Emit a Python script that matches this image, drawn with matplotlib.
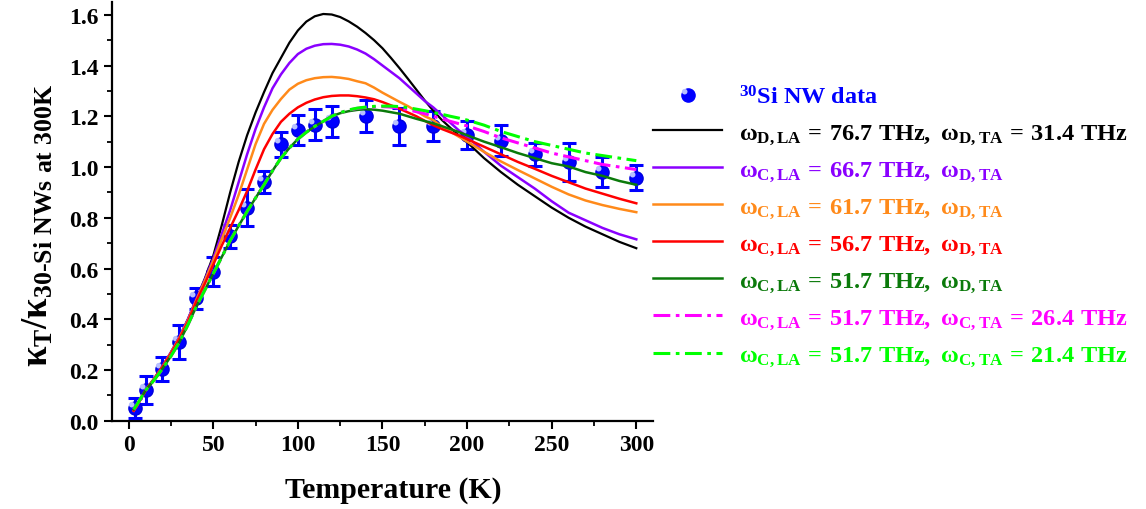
import matplotlib
matplotlib.use("Agg")
import matplotlib.pyplot as plt
from matplotlib.lines import Line2D
from matplotlib.path import Path
from matplotlib.ticker import MultipleLocator, FormatStrFormatter

# ---------------- data ----------------
T_data = [4, 10, 20, 30, 40, 50, 60, 70, 80, 90, 100, 110, 120, 140, 160, 180,
          200, 220, 240, 260, 280, 300]
k_data = [0.05, 0.122, 0.204, 0.309, 0.483, 0.588, 0.727, 0.84, 0.94, 1.09, 1.146,
          1.166, 1.18, 1.20, 1.16, 1.16, 1.127, 1.104, 1.05, 1.02, 0.98, 0.958]
k_err = [0.04, 0.054, 0.046, 0.067, 0.042, 0.058, 0.045, 0.074, 0.043, 0.049, 0.058,
         0.061, 0.062, 0.064, 0.072, 0.059, 0.056, 0.062, 0.045, 0.074, 0.06, 0.05]

T_fit = [3, 5, 10, 15, 20, 25, 30, 35, 40, 45, 50, 55, 60, 65, 70, 75, 80, 85, 90,
         95, 100, 105, 110, 115, 120, 125, 130, 135, 140, 145, 150, 155, 160, 165,
         170, 175, 180, 185, 190, 195, 200, 210, 220, 230, 240, 250, 260, 270, 280,
         290, 300]

k_black = [0.04, 0.06, 0.12, 0.165, 0.215, 0.27, 0.33, 0.40, 0.48, 0.56, 0.65, 0.77,
           0.90, 1.02, 1.125, 1.215, 1.295, 1.37, 1.43, 1.49, 1.538, 1.573, 1.594,
           1.603, 1.601, 1.591, 1.574, 1.553, 1.528, 1.50, 1.468, 1.43, 1.39, 1.348,
           1.305, 1.262, 1.222, 1.186, 1.155, 1.125, 1.098, 1.035, 0.98, 0.93, 0.885,
           0.84, 0.80, 0.765, 0.735, 0.705, 0.68]
k_purple = [0.04, 0.06, 0.12, 0.165, 0.215, 0.27, 0.33, 0.40, 0.48, 0.555, 0.64,
            0.735, 0.83, 0.94, 1.05, 1.15, 1.235, 1.31, 1.365, 1.41, 1.445, 1.466,
            1.478, 1.484, 1.485, 1.482, 1.475, 1.463, 1.447, 1.425, 1.40, 1.375, 1.35,
            1.32, 1.29, 1.26, 1.235, 1.205, 1.175, 1.145, 1.12, 1.06, 1.005, 0.96,
            0.915, 0.865, 0.82, 0.79, 0.76, 0.735, 0.715]
k_orange = [0.04, 0.06, 0.12, 0.165, 0.213, 0.268, 0.327, 0.395, 0.475, 0.55, 0.63,
            0.715, 0.80, 0.89, 0.99, 1.09, 1.17, 1.225, 1.268, 1.305, 1.328, 1.342,
            1.35, 1.354, 1.355, 1.352, 1.347, 1.338, 1.33, 1.313, 1.293, 1.275, 1.257,
            1.24, 1.22, 1.20, 1.185, 1.16, 1.14, 1.12, 1.10, 1.06, 1.022, 0.988,
            0.955, 0.922, 0.892, 0.868, 0.85, 0.835, 0.822]
k_red = [0.04, 0.06, 0.12, 0.165, 0.212, 0.265, 0.323, 0.39, 0.47, 0.54, 0.615, 0.69,
         0.76, 0.83, 0.905, 0.99, 1.07, 1.13, 1.178, 1.21, 1.235, 1.253, 1.266, 1.275,
         1.28, 1.282, 1.282, 1.279, 1.274, 1.267, 1.256, 1.243, 1.23, 1.215, 1.20,
         1.182, 1.165, 1.15, 1.137, 1.125, 1.11, 1.08, 1.05, 1.02, 0.993, 0.965, 0.94,
         0.915, 0.895, 0.875, 0.857]
k_dgreen = [0.045, 0.065, 0.12, 0.16, 0.205, 0.255, 0.31, 0.378, 0.45, 0.515, 0.58,
            0.645, 0.71, 0.768, 0.825, 0.878, 0.93, 0.985, 1.035, 1.075, 1.11, 1.137,
            1.16, 1.18, 1.20, 1.212, 1.22, 1.225, 1.228, 1.226, 1.222, 1.216, 1.21,
            1.20, 1.19, 1.181, 1.172, 1.161, 1.15, 1.138, 1.125, 1.10, 1.078, 1.055,
            1.035, 1.015, 1.002, 0.98, 0.965, 0.945, 0.93]
k_magenta = [0.045, 0.065, 0.12, 0.16, 0.205, 0.255, 0.31, 0.378, 0.45, 0.515, 0.58,
             0.645, 0.71, 0.768, 0.825, 0.878, 0.93, 0.985, 1.035, 1.075, 1.11, 1.137,
             1.16, 1.18, 1.20, 1.214, 1.224, 1.231, 1.235, 1.237, 1.238, 1.236, 1.232,
             1.226, 1.218, 1.21, 1.20, 1.19, 1.18, 1.171, 1.162, 1.14, 1.115, 1.095,
             1.075, 1.055, 1.04, 1.025, 1.01, 1.0, 0.99]
k_lime = [0.045, 0.065, 0.12, 0.16, 0.205, 0.255, 0.31, 0.378, 0.45, 0.515, 0.58,
          0.645, 0.71, 0.768, 0.825, 0.878, 0.93, 0.985, 1.035, 1.075, 1.11, 1.137,
          1.16, 1.18, 1.20, 1.214, 1.225, 1.232, 1.236, 1.239, 1.24, 1.24, 1.238,
          1.234, 1.228, 1.222, 1.215, 1.208, 1.20, 1.193, 1.185, 1.165, 1.14, 1.12,
          1.10, 1.085, 1.07, 1.055, 1.045, 1.035, 1.025]

labels = [
    r'$^{30}$Si NW data',
    r'$\omega_{D,LA}\,=\,76.7\ THz,\ \omega_{D,TA}\,=\,31.4\ THz$',
    r'$\omega_{C,LA}\,=\,66.7\ THz,\ \omega_{D,TA}$',
    r'$\omega_{C,LA}\,=\,61.7\ THz,\ \omega_{D,TA}$',
    r'$\omega_{C,LA}\,=\,56.7\ THz,\ \omega_{D,TA}$',
    r'$\omega_{C,LA}\,=\,51.7\ THz,\ \omega_{D,TA}$',
    r'$\omega_{C,LA}\,=\,51.7\ THz,\ \omega_{C,TA}\,=\,26.4\ THz$',
    r'$\omega_{C,LA}\,=\,51.7\ THz,\ \omega_{C,TA}\,=\,21.4\ THz$',
]

# ---------------- style ----------------
plt.rcParams['font.family'] = ['Liberation Serif', 'DejaVu Serif']
plt.rcParams['font.weight'] = 'bold'
plt.rcParams['mathtext.fontset'] = 'custom'
plt.rcParams['mathtext.rm'] = 'Liberation Serif:bold'
plt.rcParams['mathtext.it'] = 'Liberation Serif:bold'
plt.rcParams['mathtext.bf'] = 'Liberation Serif:bold'
plt.rcParams['mathtext.default'] = 'bf'

fig = plt.figure(figsize=(11.46, 5.10), dpi=100)
ax = fig.add_axes([0.0975, 0.173, 0.4725, 0.821])

dd = (0, (5.5, 1.8, 1.2, 1.8))
series = [
    (k_black, '#000000', '-', 1.6),
    (k_purple, '#8A00FF', '-', 1.8),
    (k_orange, '#FF8A1A', '-', 1.8),
    (k_red, '#FF0000', '-', 1.8),
    (k_dgreen, '#0B7A0B', '-', 1.8),
    (k_magenta, '#FF00FF', dd, 2.2),
    (k_lime, '#00FF00', dd, 2.2),
]

# shiny highlight marker (small offset circle inside the sphere)
hl_path = Path.circle(center=(-0.3, 0.3), radius=0.22)
hl_path = Path(hl_path.vertices.copy(), hl_path.codes)

ax.errorbar(T_data, k_data, yerr=k_err, fmt='o', color='#0000FF', ecolor='#0000FF',
            markersize=9.5, elinewidth=2.2, capsize=5, capthick=2.2, zorder=3,
            markeredgecolor='#0000DD')
ax.plot(T_data, k_data, linestyle='none', marker=hl_path, markersize=9.5,
        color='#B8C0FF', markeredgewidth=0, zorder=3.5)

h_sphere = Line2D([], [], marker='o', linestyle='none', color='#0000FF',
                  markersize=9.5)
h_hl = Line2D([], [], marker=hl_path, linestyle='none', color='#B8C0FF',
              markersize=9.5, markeredgewidth=0)
handles = [(h_sphere, h_hl)]
for i, (vals, c, ls, lw) in enumerate(series):
    ln, = ax.plot(T_fit, vals, color=c, linestyle=ls, linewidth=lw, zorder=4 + i)
    handles.append(ln)

ax.set_xlim(-10, 310)
ax.set_ylim(0, 1.65)
ax.xaxis.set_major_locator(MultipleLocator(50))
ax.xaxis.set_minor_locator(MultipleLocator(25))
ax.yaxis.set_major_locator(MultipleLocator(0.2))
ax.yaxis.set_minor_locator(MultipleLocator(0.1))
ax.yaxis.set_major_formatter(FormatStrFormatter('%.1f'))
ax.spines['top'].set_visible(False)
ax.spines['right'].set_visible(False)
for s in ('left', 'bottom'):
    ax.spines[s].set_linewidth(1.6)
ax.tick_params(which='major', direction='out', length=6, width=1.5, labelsize=17)
ax.tick_params(which='minor', direction='out', length=3.5, width=1.3)
for lab in ax.get_xticklabels() + ax.get_yticklabels():
    lab.set_fontweight('bold')

ax.set_xlabel('Temperature (K)', fontsize=21.5, fontweight='bold')
ax.xaxis.set_label_coords(0.52, -0.132)
ax.set_ylabel(r'$\kappa_{T}/\kappa_{30\text{-}Si\ NWs\ at\ 300K}$', fontsize=26.5)
ax.yaxis.set_label_coords(-0.105, 0.47)

colors = ['#0000FF'] + [s[1] for s in series]
leg = ax.legend(handles, labels, loc='upper left', bbox_to_anchor=(0.5698, 0.830),
                bbox_transform=fig.transFigure, frameon=False, fontsize=17.5,
                handlelength=2.85, handletextpad=0.68, labelspacing=0.52,
                borderpad=0, borderaxespad=0)
for txt, c in zip(leg.get_texts(), colors):
    txt.set_color(c)

fig.savefig('out.png', dpi=100)
